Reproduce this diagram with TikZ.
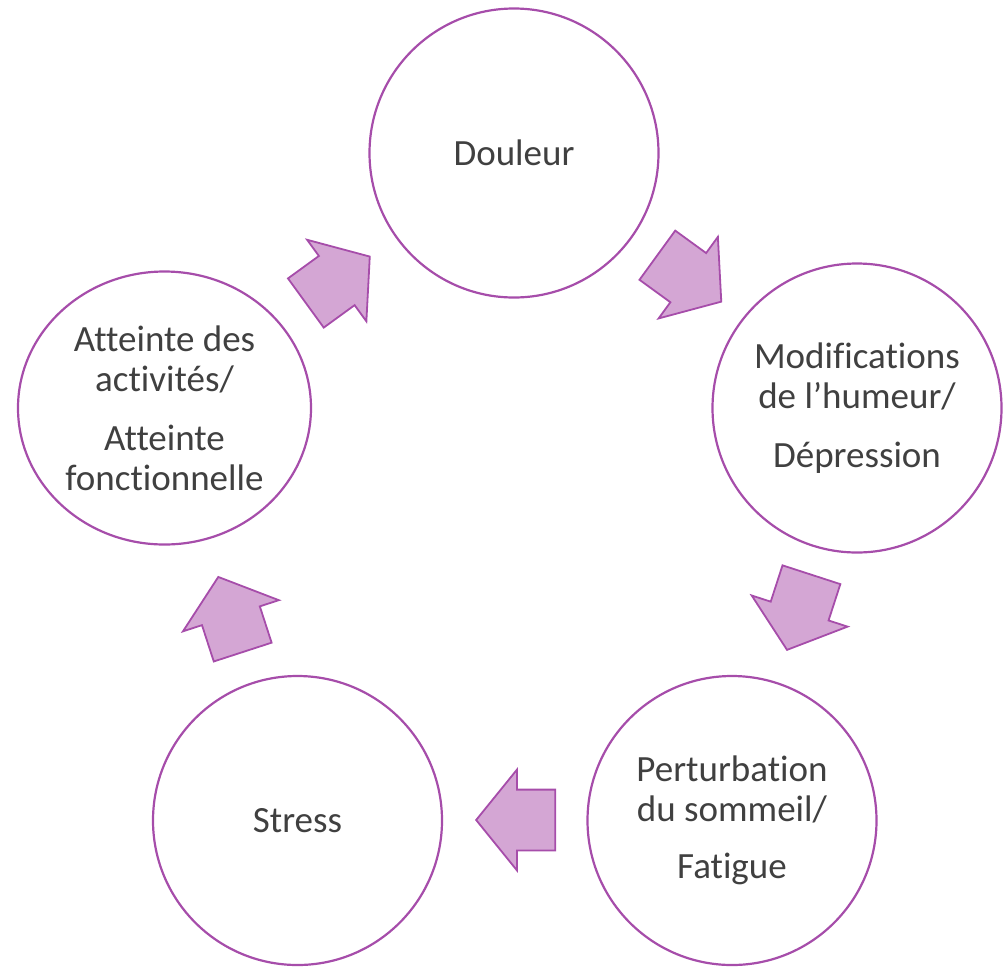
\documentclass[tikz,border=0pt]{standalone}
\usepackage{fontspec}
\setmainfont{Carlito}[Ligatures=NoCommon]
\usetikzlibrary{shapes.arrows,shapes.geometric,calc}
\definecolor{cyclepurple}{RGB}{166,77,170}
\definecolor{arrowfill}{RGB}{212,166,212}
\definecolor{textgray}{RGB}{64,64,64}

\begin{document}
\begin{tikzpicture}[x=1pt,y=1pt,
  stage/.style={circle,draw=cyclepurple,line width=2.2pt,minimum size=289pt,inner sep=0pt,
    align=center,text=textgray,font=\fontsize{37}{40}\selectfont},
  cyclearrow/.style={single arrow,draw=cyclepurple,fill=arrowfill,line width=1.8pt,
    minimum height=79pt,inner xsep=0pt,inner ysep=29.5pt,single arrow head extend=20pt,
    single arrow tip angle=102}]

\useasboundingbox (0,0) rectangle (1003,-967);

% Stages of the cycle
\node[stage] (douleur) at (514,-153) {Douleur};
\node[stage] (humeur) at (857,-408) {Modifications\\de l’humeur/\\[19pt]Dépression};
\node[stage] (sommeil) at (732,-820.5) {Perturbation\\du sommeil/\\[17pt]Fatigue};
\node[stage] (stress) at (297.5,-820.5) {Stress};
\node[stage,ellipse,minimum width=293pt,minimum height=273pt] (activites) at (164.5,-408)
    {Atteinte des\\activités/\\[19pt]Atteinte\\fonctionnelle};

% Centre of the cycle
\coordinate (c) at (514.5,-521);

% Block arrows between the stages
\foreach \a/\n in {126/1, 54/2, -18/3, -90/4, 198/5} {
    \node[cyclearrow,rotate=\a-90,anchor=tip] (arr\n) at ($(c)+(\a:299)+(\a-90:39.5)$) {};
}

\end{tikzpicture}
\end{document}
